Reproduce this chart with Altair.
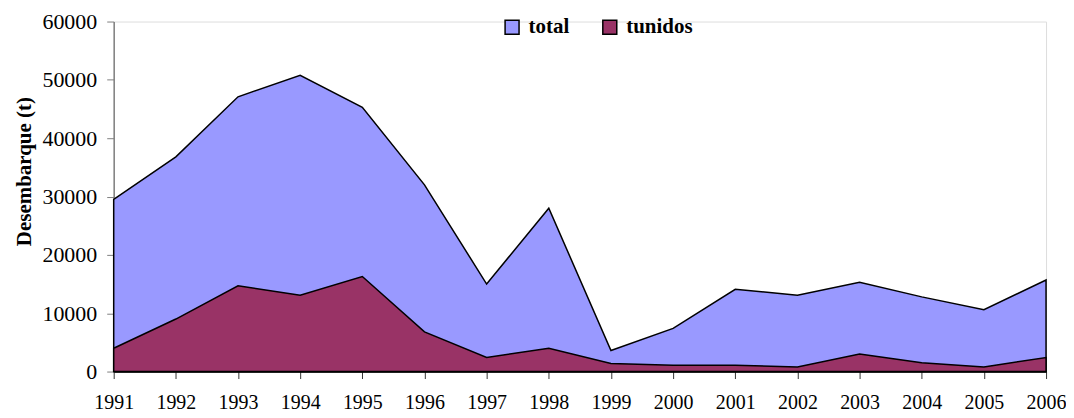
import altair as alt
import pandas as pd

years = list(range(1991, 2007))
total = [29500, 36800, 47100, 50800, 45300, 32000, 15000, 28000,
         3600, 7400, 14100, 13100, 15300, 12800, 10600, 15700]
tunidos = [4000, 9000, 14700, 13100, 16300, 6800, 2400, 4000,
           1400, 1100, 1100, 800, 3000, 1500, 800, 2400]
series = ["total", "tunidos"]
colors = ["#9999FF", "#993366"]

df = pd.DataFrame({
    "year": years * 2,
    "value": total + tunidos,
    "serie": ["total"] * len(years) + ["tunidos"] * len(years),
})

FONT = "Liberation Serif"

color = alt.Color(
    "serie:N",
    scale=alt.Scale(domain=series, range=colors),
    legend=alt.Legend(
        title=None, orient="none", direction="horizontal",
        legendX=389, legendY=-5, padding=0,
        symbolType="square", symbolSize=196, symbolStrokeColor="black",
        symbolStrokeWidth=1.5, symbolOpacity=1,
        labelFont=FONT, labelFontSize=21, labelFontWeight="bold",
        labelColor="black", labelOffset=6, columnPadding=30,
    ),
)

x = alt.X(
    "year:O",
    scale=alt.Scale(type="point", padding=0),
    axis=alt.Axis(
        title=None, labelAngle=0, labelFont=FONT, labelFontSize=20,
        labelColor="black", labelPadding=14, tickSize=7, tickColor="#333333",
        domainColor="#000000", domainWidth=1.5, tickWidth=1,
    ),
)
y = alt.Y(
    "value:Q",
    stack=None,
    scale=alt.Scale(domain=[0, 60000], nice=False),
    axis=alt.Axis(
        title="Desembarque (t)", values=[0, 10000, 20000, 30000, 40000, 50000, 60000],
        format="d", labelFont=FONT, labelFontSize=22, labelColor="black",
        labelPadding=10, tickSize=7, tickColor="#808080", domainColor="#808080",
        domainWidth=1.5, titleFont=FONT, titleFontSize=21, titleFontWeight="bold",
        titleColor="black", titlePadding=7, titleY=150, grid=False,
    ),
)

base = alt.Chart(df)
layer_total = base.transform_filter(alt.datum.serie == "total").mark_area(
    stroke="black", strokeWidth=1.5, opacity=1
).encode(x=x, y=y, color=color)
layer_tun = base.transform_filter(alt.datum.serie == "tunidos").mark_area(
    stroke="black", strokeWidth=1.5, opacity=1
).encode(x=x, y=y, color=color)

chart = alt.layer(layer_total, layer_tun).properties(
    width=935, height=351,
    autosize=alt.AutoSizeParams(type="none"),
    padding={"left": 106, "top": 13, "right": 20, "bottom": 46},
).configure_view(stroke=None).configure(background="white")

chart.save("out.html", embed_options={"renderer": "svg", "actions": False})
